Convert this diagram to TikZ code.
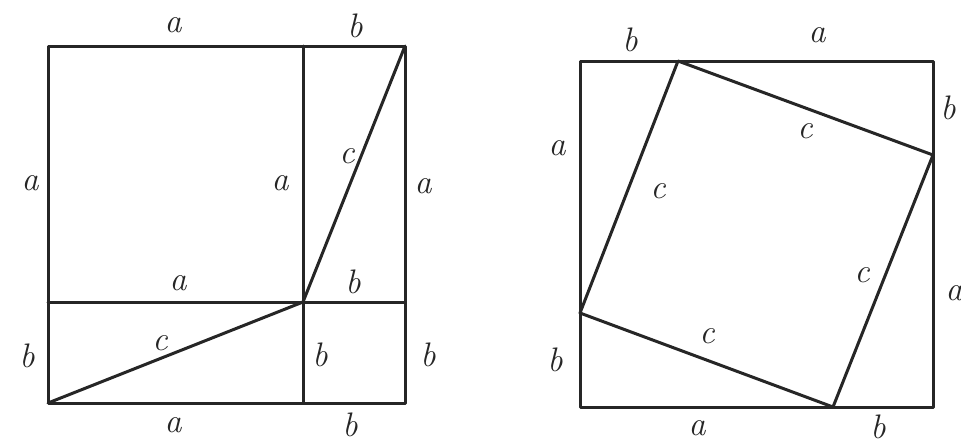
\documentclass[tikz,border=0pt]{standalone}
\usepackage{fontspec}
\usepackage{tikz}
\usetikzlibrary{positioning, calc}

\begin{document}
\begin{tikzpicture}[
        x=1pt, y=-1pt, % 1 unidade = 1 pixel da imagem de referencia
        traco/.style={line width=3pt, color=black!85, line join=round, line cap=round},
        rotulo/.style={font=\fontsize{34}{38}\selectfont\itshape, text=black!85}
        ]
        \useasboundingbox (0,0) rectangle (961,445);

        % Quadrado da esquerda: a^2 + b^2 + dois retangulos
        \coordinate (ea) at (48,46);
        \coordinate (eb) at (405,46);
        \coordinate (ec) at (405,403);
        \coordinate (ed) at (48,403);
        \coordinate (ev1) at (303,46);
        \coordinate (ev2) at (303,403);
        \coordinate (eh1) at (48,302);
        \coordinate (eh2) at (405,302);
        \coordinate (ecentro) at (303,302);

        \draw[traco] (ea) -- (eb) -- (ec) -- (ed) -- cycle;
        \draw[traco] (ev1) -- (ev2);
        \draw[traco] (eh1) -- (eh2);
        \draw[traco] (ed) -- (ecentro) -- (eb);

        % Rotulos da esquerda
        \node[rotulo] (ea1) at (173,25) {a};
        \node[rotulo] (eb1) at (355,26) {b};
        \node[rotulo] (ea2) at (30,183) {a};
        \node[rotulo] (ea3) at (280,183) {a};
        \node[rotulo] (ec1) at (347,156) {c};
        \node[rotulo] (ea4) at (423,186) {a};
        \node[rotulo] (ea5) at (178,283) {a};
        \node[rotulo] (eb2) at (353,282) {b};
        \node[rotulo] (ec2) at (160,343) {c};
        \node[rotulo] (eb3) at (27,356) {b};
        \node[rotulo] (eb4) at (320,355) {b};
        \node[rotulo] (eb5) at (428,355) {b};
        \node[rotulo] (ea6) at (173,425) {a};
        \node[rotulo] (eb6) at (350,425) {b};

        % Quadrado da direita com o quadrado c^2 inclinado
        \coordinate (da) at (580,61);
        \coordinate (db) at (933,61);
        \coordinate (dc) at (933,407);
        \coordinate (dd) at (580,407);
        \coordinate (q1) at (678,61);
        \coordinate (q2) at (933,155);
        \coordinate (q3) at (833,407);
        \coordinate (q4) at (580,313);

        \draw[traco] (da) -- (db) -- (dc) -- (dd) -- cycle;
        \draw[traco] (q1) -- (q2) -- (q3) -- (q4) -- cycle;

        % Rotulos da direita
        \node[rotulo] (db1) at (630,40) {b};
        \node[rotulo] (da1) at (817,35) {a};
        \node[rotulo] (db2) at (948,108) {b};
        \node[rotulo] (da2) at (557,148) {a};
        \node[rotulo] (dc1) at (805,131) {c};
        \node[rotulo] (dc2) at (658,191) {c};
        \node[rotulo] (dc3) at (862,275) {c};
        \node[rotulo] (da3) at (954,293) {a};
        \node[rotulo] (dc4) at (707,336) {c};
        \node[rotulo] (db3) at (555,360) {b};
        \node[rotulo] (da4) at (697,428) {a};
        \node[rotulo] (db4) at (878,427) {b};

    \end{tikzpicture}
\end{document}
